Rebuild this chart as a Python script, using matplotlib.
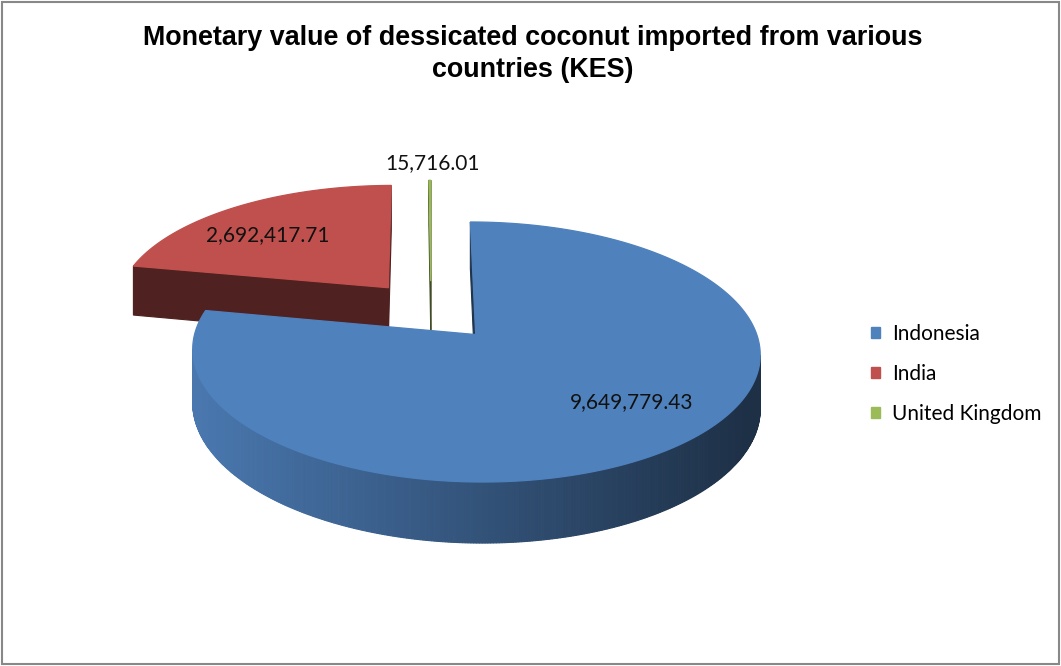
import numpy as np
import matplotlib.pyplot as plt
from matplotlib.patches import Polygon, Patch, Rectangle
from matplotlib.colors import to_rgb

countries = ["Indonesia", "India", "United Kingdom"]
values = [9649779.43, 2692417.71, 15716.01]
colors = ["#4F81BD", "#C0504D", "#9BBB59"]

# 3d view of the pie (pixels)
CX, CY = 431, 310.5
RX, RY = 274, 121.3
PERSP = 0.131
DEPTH = 51.5
EXPLODE = 0.25


def proj(X, Y, Z=0.0):
    f = 1.0 / (1.0 + PERSP * Y)
    return (CX + RX * X * f, CY - RY * Y * f + DEPTH * Z * f)


def area(pts):
    s = 0.0
    for i in range(len(pts)):
        x1, y1 = pts[i]
        x2, y2 = pts[(i + 1) % len(pts)]
        s += x1 * y2 - x2 * y1
    return s


def shade(color, k):
    return tuple(np.clip(np.array(to_rgb(color)) * k, 0, 1))


fig = plt.figure(figsize=(10.61, 6.66), dpi=100)
ax = fig.add_axes([0, 0, 1, 1])
ax.set_xlim(0, 1061)
ax.set_ylim(666, 0)
ax.axis("off")

shares = np.array(values) / sum(values)
before = np.concatenate([[0], np.cumsum(shares)[:-1]])

# excel starts at 12 o'clock and goes clockwise
wedges = []
for i in range(len(values)):
    a_hi = 90 - 360 * before[i]
    a_lo = a_hi - 360 * shares[i]
    mid = np.radians((a_lo + a_hi) / 2)
    wedges.append(dict(i=i, lo=a_lo, hi=a_hi, mid=mid,
                       ox=EXPLODE * np.cos(mid), oy=EXPLODE * np.sin(mid)))

# back to front
for w in sorted(wedges, key=lambda w: -w["oy"]):
    c = colors[w["i"]]
    ox, oy = w["ox"], w["oy"]
    n = max(2, int((w["hi"] - w["lo"]) / 0.5) + 1)
    th = np.radians(np.linspace(w["lo"], w["hi"], n))
    rx = ox + np.cos(th)
    ry = oy + np.sin(th)

    # cut faces
    for a, is_max in [(w["lo"], False), (w["hi"], True)]:
        ex, ey = ox + np.cos(np.radians(a)), oy + np.sin(np.radians(a))
        quad = [proj(ox, oy), proj(ex, ey), proj(ex, ey, 1), proj(ox, oy, 1)]
        s = area(quad)
        if (is_max and s < 0) or (not is_max and s > 0):
            fc = shade(c, 0.41)
            ax.add_patch(Polygon(quad, closed=True, fc=fc, ec=fc, lw=0.8))

    # outer side
    xc = proj(ox, oy)[0]
    for j in range(n - 1):
        quad = [proj(rx[j], ry[j]), proj(rx[j + 1], ry[j + 1]),
                proj(rx[j + 1], ry[j + 1], 1), proj(rx[j], ry[j], 1)]
        if area(quad) > 0:
            xm = np.mean([p[0] for p in quad])
            t = np.clip((xm - xc) / (2 * RX) + 0.5, 0, 1)
            fc = shade(c, 0.92 - 0.55 * t)
            ax.add_patch(Polygon(quad, closed=True, fc=fc, ec=fc, lw=0.8))

    # top
    top = [proj(ox, oy)] + [proj(x, y) for x, y in zip(rx, ry)]
    ax.add_patch(Polygon(top, closed=True, fc=c, ec=c, lw=0.9))

# data labels
for w in wedges:
    if shares[w["i"]] > 0.02:
        k, a = 0.7, w["mid"] + np.radians(6)
    else:
        k, a = 1.2, w["mid"]
    lx, ly = proj(w["ox"] + k * np.cos(a), w["oy"] + k * np.sin(a))
    ax.text(lx + 3, ly, f"{values[w['i']]:,.2f}", ha="center", va="center",
            fontsize=15, family="Lato", color="#111111")

fig.text(533 / 1061, 1 - 54 / 666,
         "Monetary value of dessicated coconut imported from various\ncountries (KES)",
         ha="center", va="center", fontsize=19.4, fontweight="bold",
         family="Liberation Sans", linespacing=1.3)

handles = [Patch(fc=c, ec=c) for c in colors]
fig.legend(handles, countries, loc="center left",
           bbox_to_anchor=(871 / 1061, 1 - 374 / 666), frameon=False,
           prop={"family": "Lato", "size": 15}, handlelength=0.45,
           handleheight=0.45, handletextpad=0.55, labelspacing=0.95,
           borderpad=0, borderaxespad=0)

fig.patches.append(Rectangle((2 / 1061, 2 / 666), 1057 / 1061, 662 / 666,
                             transform=fig.transFigure, fill=False,
                             ec="#888888", lw=1.5))

fig.savefig("out.png", dpi=100)
